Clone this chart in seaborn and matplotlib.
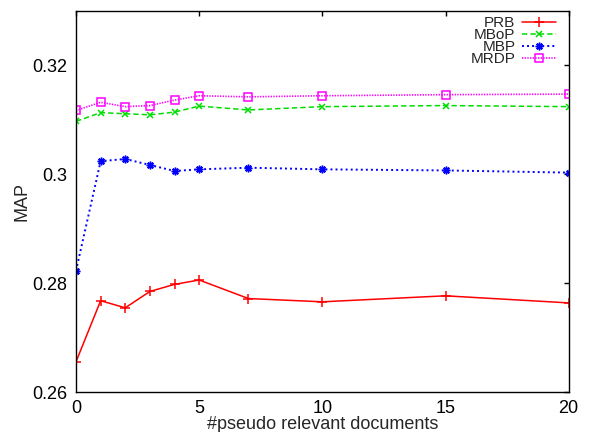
import numpy as np
import pandas as pd
import matplotlib
matplotlib.use("Agg")
import matplotlib.pyplot as plt
from matplotlib.ticker import FormatStrFormatter
import seaborn as sns

# values
n_docs = [0, 1, 2, 3, 4, 5, 7, 10, 15, 20]
prb = [0.2656, 0.2768, 0.2755, 0.2785, 0.2798, 0.2806, 0.2772, 0.2766, 0.2777, 0.2764]
mbop = [0.3097, 0.3113, 0.3111, 0.3109, 0.3114, 0.3125, 0.3118, 0.3124, 0.3126, 0.3124]
mbp = [0.2823, 0.3024, 0.3028, 0.3017, 0.3006, 0.3009, 0.3012, 0.3009, 0.3007, 0.3003]
mrdp = [0.3117, 0.3132, 0.3124, 0.3126, 0.3136, 0.3144, 0.3142, 0.3144, 0.3146, 0.3147]

x_ticks = [0, 5, 10, 15, 20]
y_ticks = [0.26, 0.28, 0.30, 0.32]

sns.set_style("white")
plt.rcParams["font.family"] = ["Liberation Sans", "DejaVu Sans"]

fig = plt.figure(figsize=(5.92, 4.32), dpi=100)
ax = fig.add_axes([0.1284, 0.0919, 0.8322, 0.8833])

series = [
    ("PRB", prb, dict(color="#ff0000", linestyle="-", marker="+", markersize=7, lw=1.1)),
    ("MBoP", mbop, dict(color="#00dd00", linestyle=(0, (3.5, 2)), marker="x", markersize=5, lw=1.1)),
    ("MBP", mbp, dict(color="#0000ff", linestyle=(0, (1, 1.6)), marker=(8, 2, 0), markersize=5.5, lw=1.4)),
    ("MRDP", mrdp, dict(color="#ff00ff", linestyle=(0, (0.8, 0.8)), marker="s", markersize=5.5,
                        mfc="none", lw=1.2)),
]

for name, vals, kw in series:
    df = pd.DataFrame({"docs": n_docs, "map": vals})
    sns.lineplot(data=df, x="docs", y="map", ax=ax, label=name, mec=kw["color"], mew=1.1, **kw)

ax.set_xlim(0, 20)
ax.set_ylim(0.26, 0.33)
ax.set_xticks(x_ticks)
ax.set_yticks(y_ticks)
ax.yaxis.set_major_formatter(FormatStrFormatter("%g"))
ax.tick_params(direction="in", length=3.6, width=1, top=True, right=True, labelsize=13, colors="black")
ax.tick_params(axis="x", pad=5.5)
ax.tick_params(axis="y", pad=6.5)
for s in ax.spines.values():
    s.set_color("black")
    s.set_linewidth(1)

ax.set_xlabel("#pseudo relevant documents", fontsize=13, labelpad=-0.5)
ax.set_ylabel("MAP", fontsize=13, labelpad=1)

leg = ax.legend(loc="upper right", bbox_to_anchor=(0.974, 0.985), borderaxespad=0, borderpad=0,
                frameon=False, markerfirst=False, fontsize=11, labelspacing=-0.14,
                handlelength=2.2, handletextpad=0.45)
leg._legend_handle_box.get_children()[0].align = "right"

fig.savefig("out.png", dpi=100)
